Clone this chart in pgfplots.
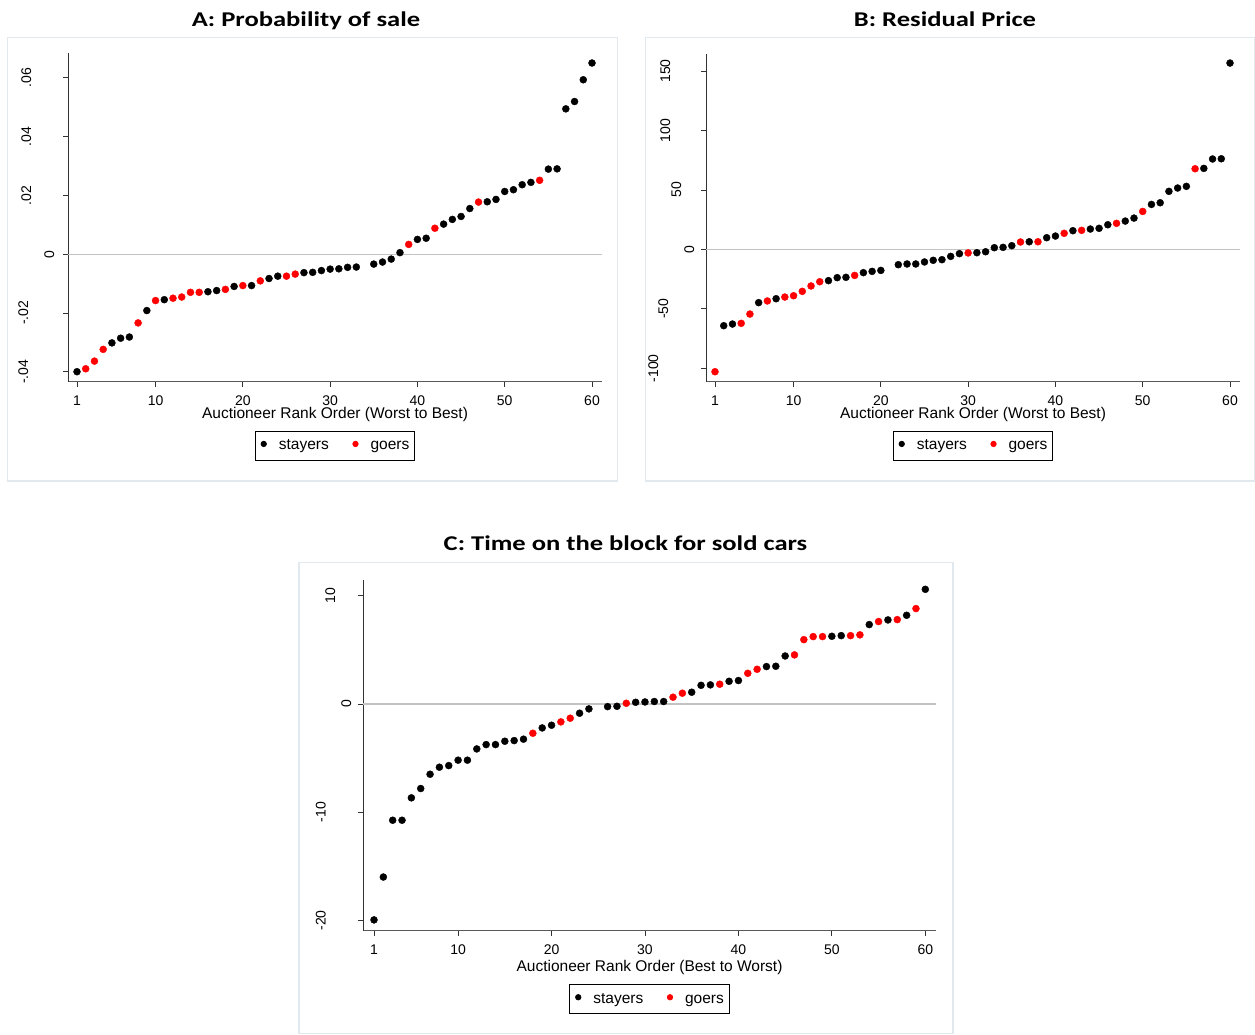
\documentclass[border=0pt]{standalone}
\usepackage{fontspec}
\setmainfont{Liberation Sans}
\newfontfamily\titlefont{Carlito}
\usepackage{graphicx}
\usepackage{pgfplots}
\pgfplotsset{compat=1.18}

\definecolor{panelframe}{RGB}{226,233,238}
\definecolor{zline}{RGB}{195,195,195}

% rotated y tick label, pushed away from the axis by #1
\newcommand\ylab[2]{\raisebox{#1}[0pt][0pt]{#2}}
\newcommand\ptitle[1]{\scalebox{1.265}[1]{#1}}

\pgfplotsset{
  stata/.style={
    scale only axis,
    anchor=south west,
    axis x line=bottom, axis y line=left,
    axis line style={-},
    x axis line style={black!65, line width=1.5pt},
    y axis line style={black!80, line width=1pt},
    tick align=outside,
    major tick length=5pt,
    tick style={black!80, line width=0.8pt},
    enlargelimits=false,
    clip=false,
    scaled y ticks=false,
    tick label style={font=\fontsize{14}{16}\selectfont},
    xtick={1,10,20,30,40,50,60},
    xticklabels={1,10,20,30,40,50,60},
    xticklabel style={anchor=north, inner sep=0pt, yshift=-9pt},
    yticklabel style={rotate=90, anchor=center, inner sep=0pt},
    xlabel style={at={(axis description cs:0.5,0)}, anchor=base, inner sep=0pt, font=\fontsize{15.5}{18}\selectfont},
    legend columns=2,
    legend cell align=left,
    legend style={at={(axis description cs:0.5,0)}, anchor=north, draw=black, line width=0.8pt,
      font=\fontsize{15.5}{18}\selectfont, inner xsep=5.3pt, inner ysep=8.5pt,
      nodes={inner sep=0pt, anchor=base},
      /tikz/every odd column/.append style={column sep=12pt},
      /tikz/every even column/.append style={column sep=23.6pt}},
    legend image code/.code={\fill (0pt,6pt) circle (2.7pt);},
  },
  stay/.style={only marks, mark=*, mark size=3.5pt, black},
  go/.style={only marks, mark=*, mark size=3.5pt, red},
}

\begin{document}
\begin{tikzpicture}
\path[use as bounding box] (0,0) rectangle (1255pt,-1034pt);
% panel frames
\draw[panelframe, line width=1.2pt] (7.3pt,-37.3pt) rectangle (617.3pt,-481pt);
\draw[panelframe, line width=1.2pt] (645.7pt,-37.3pt) rectangle (1254.4pt,-481pt);
\draw[panelframe, line width=1.2pt] (299pt,-562.3pt) rectangle (953pt,-1033.4pt);
% titles
\node[font=\titlefont\bfseries\fontsize{21}{24}\selectfont, anchor=base] at (306pt,-26pt) {\ptitle{A: Probability of sale}};
\node[font=\titlefont\bfseries\fontsize{21}{24}\selectfont, anchor=base] at (945pt,-26pt) {\ptitle{B: Residual Price}};
\node[font=\titlefont\bfseries\fontsize{21}{24}\selectfont, anchor=base] at (625.5pt,-550.7pt) {\ptitle{C: Time on the block for sold cars}};

% ---------------- Panel A
\begin{axis}[stata, at={(68pt,-381.7pt)}, width=534pt, height=328.4pt,
  xmin=-0.031, xmax=61.146, ymin=-0.0434, ymax=0.0683,
  ytick={-0.04,-0.02,0,0.02,0.04,0.06},
  yticklabels={\ylab{35pt}{-.04},\ylab{35pt}{-.02},\ylab{9pt}{0},\ylab{32pt}{.02},\ylab{32pt}{.04},\ylab{32pt}{.06}},
  xlabel={Auctioneer Rank Order (Worst to Best)},
  xlabel style={yshift=-36.8pt},
  legend style={yshift=-49.3pt}]
\draw[zline, line width=1.2pt] (axis cs:-0.031,0) -- (axis cs:61.146,0);
\addplot[stay] coordinates {
(1,-0.0400) (5,-0.0302) (6,-0.0286) (7,-0.0282) (9,-0.0192) (11,-0.0155)
(16,-0.0128) (17,-0.0124) (19,-0.0110) (21,-0.0107) (23,-0.0083) (24,-0.0075)
(27,-0.0063) (28,-0.0062) (29,-0.0056) (30,-0.0051) (31,-0.0050) (32,-0.0045)
(33,-0.0044) (35,-0.0034) (36,-0.0027) (37,-0.0017) (38,0.0005) (40,0.0050)
(41,0.0054) (43,0.0102) (44,0.0118) (45,0.0128) (46,0.0155) (48,0.0178)
(49,0.0186) (50,0.0213) (51,0.0219) (52,0.0236) (53,0.0244) (55,0.0289)
(56,0.0290) (57,0.0494) (58,0.0519) (59,0.0593) (60,0.0650)};
\addplot[go] coordinates {
(2,-0.0390) (3,-0.0364) (4,-0.0324) (8,-0.0234) (10,-0.0158) (12,-0.0150)
(13,-0.0146) (14,-0.0130) (15,-0.0130) (18,-0.0120) (20,-0.0107) (22,-0.0091)
(25,-0.0075) (26,-0.0068) (39,0.0033) (42,0.0088) (47,0.0177) (54,0.0251)};
\legend{stayers, goers}
\end{axis}

% ---------------- Panel B
\begin{axis}[stata, at={(706pt,-381.7pt)}, width=534pt, height=327.7pt,
  xmin=-0.031, xmax=61.146, ymin=-111.3, ymax=164.3,
  ytick={-100,-50,0,50,100,150},
  yticklabels={\ylab{43pt}{-100},\ylab{33pt}{-50},\ylab{7pt}{0},\ylab{20pt}{50},\ylab{31pt}{100},\ylab{31pt}{150}},
  xlabel={Auctioneer Rank Order (Worst to Best)},
  xlabel style={yshift=-36.8pt},
  legend style={yshift=-49.3pt}]
\draw[zline, line width=1.2pt] (axis cs:-0.031,0) -- (axis cs:61.146,0);
\addplot[stay] coordinates {
(2,-64.2) (3,-62.8) (6,-44.8) (8,-41.5) (14,-26.3) (15,-23.8) (16,-23.5)
(18,-19.6) (19,-18.5) (20,-17.7) (22,-12.9) (23,-12.3) (24,-12.3) (25,-10.6)
(26,-9.2) (27,-8.7) (28,-5.9) (29,-3.6) (31,-2.8) (32,-2.0) (33,1.4) (34,1.7)
(35,3.1) (37,6.4) (39,9.8) (40,11.2) (42,15.7) (44,17.1) (45,17.7) (46,20.7)
(48,23.8) (49,26.3) (51,37.8) (52,39.2) (53,48.8) (54,51.6) (55,53.0)
(57,68.1) (58,76.0) (59,76.2) (60,156.7)};
\addplot[go] coordinates {
(1,-102.9) (4,-62.2) (5,-54.4) (7,-43.4) (9,-40.1) (10,-39.0) (11,-35.3)
(12,-30.8) (13,-27.2) (17,-21.9) (30,-3.0) (36,6.2) (38,6.4) (41,13.5)
(43,16.0) (47,21.9) (50,31.9) (56,67.8)};
\legend{stayers, goers}
\end{axis}

% ---------------- Panel C
\begin{axis}[stata, at={(363pt,-930.7pt)}, width=573pt, height=350.7pt,
  xmin=-0.177, xmax=61.145, ymin=-20.96, ymax=11.45,
  ytick={-20,-10,0,10},
  yticklabels={\ylab{32.5pt}{-20},\ylab{32.5pt}{-10},\ylab{7pt}{0},\ylab{23pt}{10}},
  xlabel={Auctioneer Rank Order (Best to Worst)},
  xlabel style={yshift=-40.8pt},
  legend style={yshift=-53.6pt}]
\draw[zline, line width=1.2pt] (axis cs:-0.177,0) -- (axis cs:61.145,0);
\addplot[stay] coordinates {
(1,-19.96) (2,-16.0) (3,-10.75) (4,-10.75) (5,-8.68) (6,-7.82) (7,-6.50)
(8,-5.85) (9,-5.70) (10,-5.20) (11,-5.20) (12,-4.16) (13,-3.76) (14,-3.76)
(15,-3.45) (16,-3.39) (17,-3.26) (19,-2.22) (20,-1.97) (23,-0.86) (24,-0.46)
(26,-0.25) (27,-0.22) (29,0.15) (30,0.18) (31,0.22) (32,0.22) (35,1.08)
(36,1.72) (37,1.76) (39,2.09) (40,2.16) (43,3.45) (44,3.48) (45,4.43)
(50,6.25) (51,6.31) (54,7.33) (56,7.76) (58,8.19) (60,10.59)};
\addplot[go] coordinates {
(18,-2.71) (21,-1.66) (22,-1.32) (28,0.06) (33,0.62) (34,0.99) (38,1.82)
(41,2.83) (42,3.20) (46,4.53) (47,5.94) (48,6.22) (49,6.22) (52,6.31)
(53,6.38) (55,7.61) (57,7.79) (59,8.81)};
\legend{stayers, goers}
\end{axis}
\end{tikzpicture}
\end{document}
